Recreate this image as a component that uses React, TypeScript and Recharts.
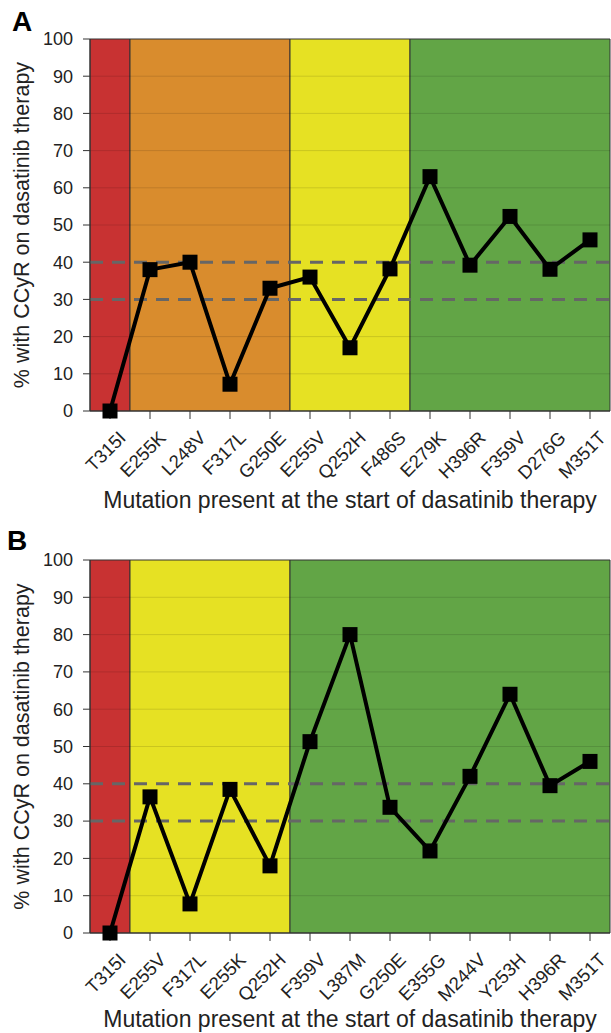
import { ComposedChart, Line, XAxis, YAxis, ReferenceArea, ReferenceLine } from 'recharts';

const FONT = 'Arial, "Liberation Sans", Helvetica, sans-serif';

const RED = '#c83232';
const ORANGE = '#d98c2d';
const YELLOW = '#e6e123';
const GREEN = '#62a546';

// panel A
const mutationsA = ['T315I', 'E255K', 'L248V', 'F317L', 'G250E', 'E255V', 'Q252H', 'F486S', 'E279K', 'H396R', 'F359V', 'D276G', 'M351T'];
const ccyrA = [0, 38, 40, 7.2, 33, 36, 17, 38.2, 63, 39.2, 52.3, 38.1, 46];
const bandsA = [
  { from: 'T315I', to: 'T315I', color: RED },
  { from: 'E255K', to: 'G250E', color: ORANGE },
  { from: 'E255V', to: 'F486S', color: YELLOW },
  { from: 'E279K', to: 'M351T', color: GREEN },
];

// panel B
const mutationsB = ['T315I', 'E255V', 'F317L', 'E255K', 'Q252H', 'F359V', 'L387M', 'G250E', 'E355G', 'M244V', 'Y253H', 'H396R', 'M351T'];
const ccyrB = [0, 36.5, 7.8, 38.5, 18, 51.3, 80, 33.7, 22, 42, 64, 39.5, 46];
const bandsB = [
  { from: 'T315I', to: 'T315I', color: RED },
  { from: 'E255V', to: 'Q252H', color: YELLOW },
  { from: 'F359V', to: 'M351T', color: GREEN },
];

const yTicks = [0, 10, 20, 30, 40, 50, 60, 70, 80, 90, 100];
const gridLines = [10, 20, 50, 60, 70, 80, 90];
const thresholds = [30, 40];

const X_LABEL = 'Mutation present at the start of dasatinib therapy';
const Y_LABEL = '% with CCyR on dasatinib therapy';

const RotTick = (props: any) => {
  const { x, y, payload } = props;
  return (
    <g transform={`translate(${x + 17},${y + 18}) rotate(-45)`}>
      <text x={0} y={0} textAnchor="end" fontSize={18.5} fontFamily={FONT} fill="#222">
        {payload.value}
      </text>
    </g>
  );
};

const Square = (props: any) => {
  const { cx, cy } = props;
  if (cx == null || cy == null) return null;
  return <rect x={cx - 7.5} y={cy - 7.5} width={15} height={15} fill="#000" />;
};

interface PanelProps {
  cats: string[];
  vals: number[];
  bands: { from: string; to: string; color: string }[];
  height: number;
  top: number;
  xAxisHeight: number;
  labelOffset: number;
}

function Panel({ cats, vals, bands, height, top, xAxisHeight, labelOffset }: PanelProps) {
  const data = cats.map((name, i) => ({ name, value: vals[i] }));
  return (
    <ComposedChart width={611} height={height} data={data} margin={{ top, right: 1, left: 0, bottom: 0 }}>
      <XAxis
        dataKey="name"
        type="category"
        scale="band"
        interval={0}
        height={xAxisHeight}
        tick={<RotTick />}
        tickSize={8}
        tickLine={{ stroke: '#333' }}
        axisLine={{ stroke: '#333' }}
        label={{ value: X_LABEL, position: 'insideBottom', offset: labelOffset, fontSize: 23, fontFamily: FONT, fill: '#222' }}
      />
      <YAxis
        type="number"
        domain={[0, 100]}
        ticks={yTicks}
        width={90}
        tickSize={7}
        tickMargin={10}
        interval={0}
        tick={{ fontSize: 18, fontFamily: FONT, fill: '#222' }}
        tickLine={{ stroke: '#333' }}
        axisLine={{ stroke: '#333' }}
        label={(p: any) => {
          const vb = p.viewBox || { x: 0, y: top, width: 90, height: 372 };
          const cx = vb.x + 22;
          const cy = vb.y + vb.height / 2;
          return (
            <text
              x={cx}
              y={cy}
              transform={`rotate(-90, ${cx}, ${cy})`}
              textAnchor="middle"
              dominantBaseline="central"
              fontSize={21.5}
              fontFamily={FONT}
              fill="#222"
            >
              {Y_LABEL}
            </text>
          );
        }}
      />
      {bands.map((b) => (
        <ReferenceArea
          key={b.from}
          x1={b.from}
          x2={b.to}
          y1={0}
          y2={100}
          fill={b.color}
          fillOpacity={1}
          stroke="#333"
          strokeWidth={1}
        />
      ))}
      {gridLines.map((g) => (
        <ReferenceLine key={g} y={g} stroke="rgba(0,0,0,0.12)" strokeWidth={1} />
      ))}
      {thresholds.map((t) => (
        <ReferenceLine key={t} y={t} stroke="#666" strokeWidth={3} strokeDasharray="13 9" />
      ))}
      <Line
        dataKey="value"
        stroke="#000"
        strokeWidth={4}
        dot={<Square />}
        activeDot={false}
        isAnimationActive={false}
      />
    </ComposedChart>
  );
}

export default function App() {
  return (
    <div style={{ position: 'absolute', left: 0, top: 0, width: 611, height: 1033, background: '#fff', fontFamily: FONT }}>
      <Panel cats={mutationsA} vals={ccyrA} bands={bandsA} height={522} top={39} xAxisHeight={111} labelOffset={14} />
      <Panel cats={mutationsB} vals={ccyrB} bands={bandsB} height={511} top={38} xAxisHeight={100} labelOffset={6} />
      <div style={{ position: 'absolute', left: 12, top: 8, fontSize: 28, lineHeight: '28px', fontWeight: 'bold' }}>A</div>
      <div style={{ position: 'absolute', left: 7, top: 527, fontSize: 28, lineHeight: '28px', fontWeight: 'bold' }}>B</div>
    </div>
  );
}
